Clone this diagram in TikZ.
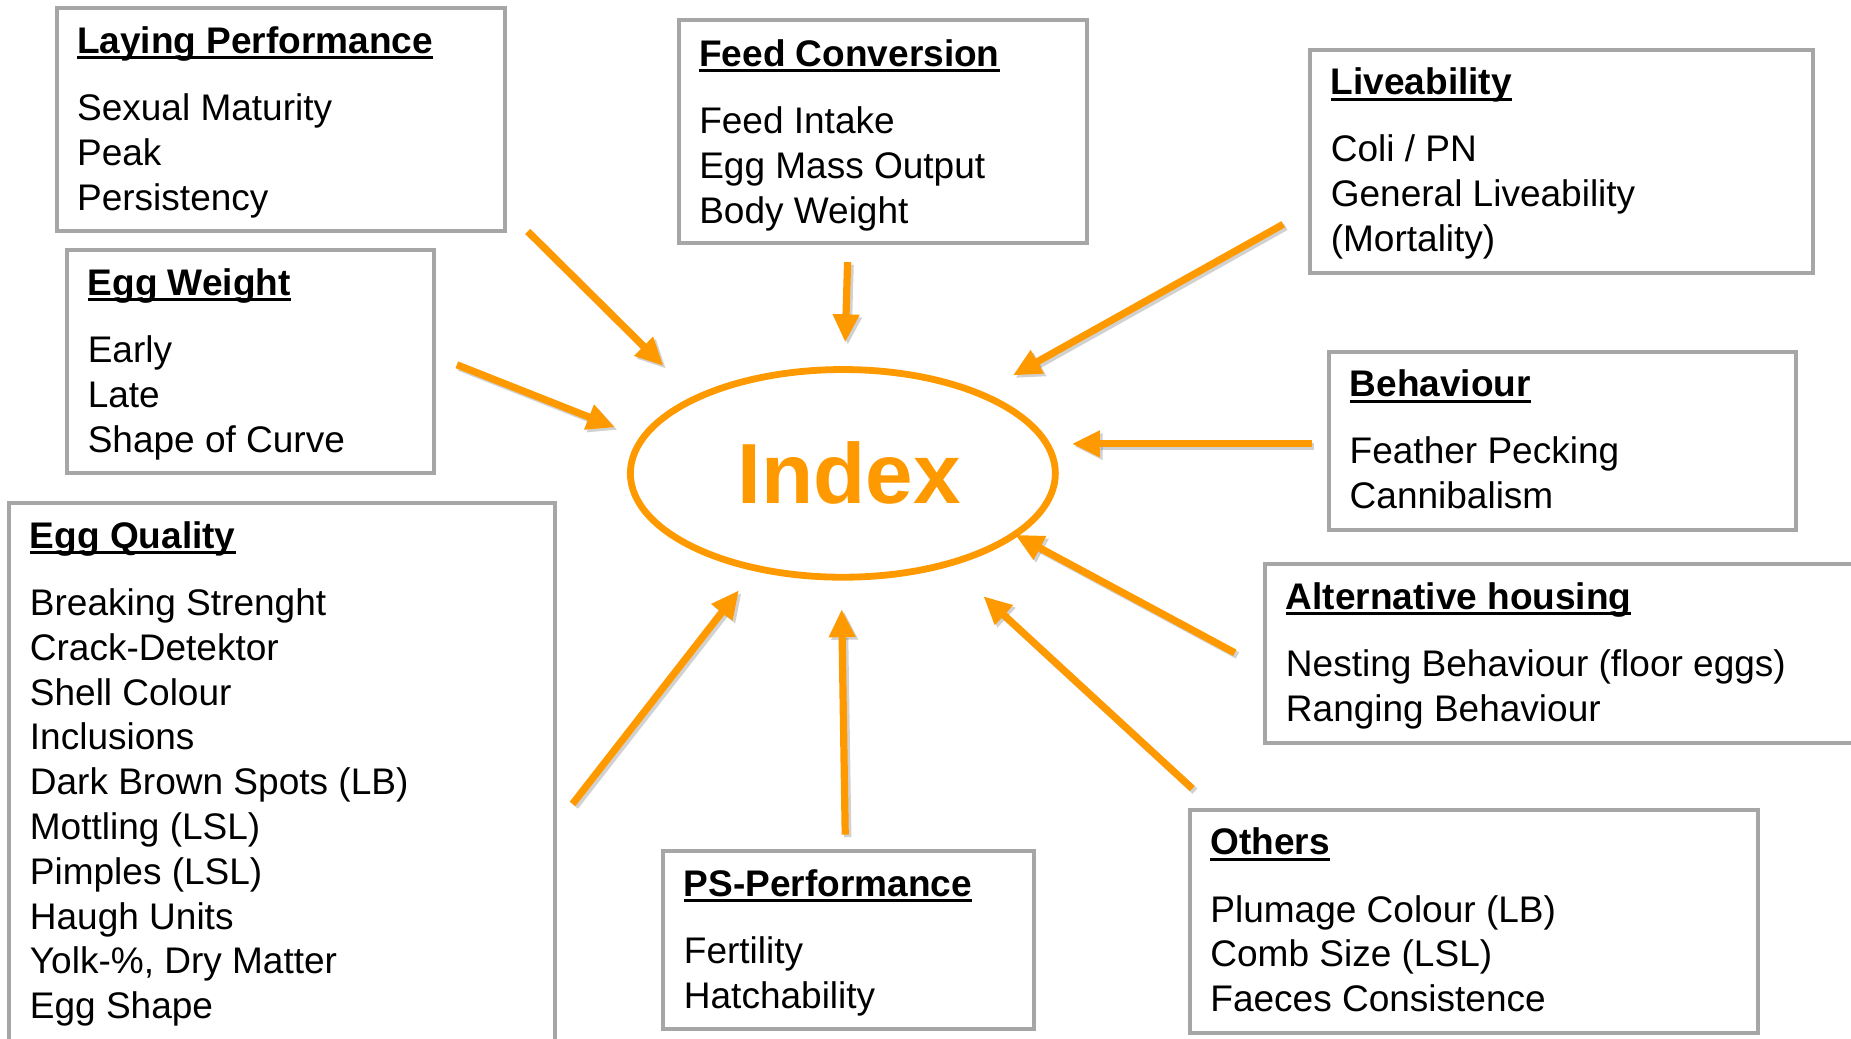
\documentclass[tikz,border=0pt]{standalone}
\usepackage{fontspec}
\setmainfont{Liberation Sans}
\usetikzlibrary{arrows.meta,shapes.geometric,fit}
\definecolor{idxorange}{RGB}{255,153,0}
\definecolor{boxgray}{RGB}{166,166,166}
% bold heading with an underline that runs just under the baseline
\newcommand\hd[1]{\setbox0\hbox{\bfseries #1}\rlap{\rule[-3pt]{\wd0}{1.5pt}}\box0}
\begin{document}
\begin{tikzpicture}[x=0.59pt,y=-0.59pt,
  box/.style={draw=boxgray, line width=2pt, fill=white, inner sep=0pt},
  % text blocks are placed by the baseline of their last line
  lbl/.style={inner sep=0pt, anchor=base west, align=left,
    font=\fontsize{18.5}{22.4}\selectfont},
  arr/.style={draw=idxorange, line width=3.6pt, -{Triangle[length=14pt,width=12.5pt]}},
  arrshadow/.style={draw=black, opacity=0.18, line width=3.6pt, -{Triangle[length=14pt,width=12.5pt]}},
  hub/.style={draw=idxorange, line width=3.4pt, ellipse, inner sep=0pt,
    minimum width=212.4pt, minimum height=103.8pt, text=idxorange,
    font=\bfseries\fontsize{42.7}{50}\selectfont}]
\useasboundingbox (0,0) rectangle (1568,880);
\clip (0,0) rectangle (1568,880);

% frames
\node[box, fit={(48,7) (428,196)}] (lp) {};
\node[box, fit={(575,17) (921,206)}] (fc) {};
\node[box, fit={(1110,42) (1536,231)}] (lv) {};
\node[box, fit={(57,212) (368,401)}] (ew) {};
\node[box, fit={(1126,298) (1521,449)}] (bh) {};
\node[box, fit={(8,426) (470,900)}] (eq) {};
\node[box, fit={(1072,478) (1590,629)}] (ah) {};
\node[box, fit={(562,721) (876,872)}] (ps) {};
\node[box, fit={(1008,686) (1489,875)}] (ot) {};

% frame contents
\node[lbl] (lp-t) at (65,178) {\hd{Laying Performance}\\[11.2pt]Sexual Maturity\\Peak\\Persistency};
\node[lbl] (fc-t) at (592,189) {\hd{Feed Conversion}\\[11.2pt]Feed Intake\\Egg Mass Output\\Body Weight};
\node[lbl] (lv-t) at (1127,213) {\hd{Liveability}\\[11.2pt]Coli / PN\\General Liveability\\(Mortality)};
\node[lbl] (ew-t) at (74,383) {\hd{Egg Weight}\\[11.2pt]Early\\Late\\Shape of Curve};
\node[lbl] (bh-t) at (1143,431) {\hd{Behaviour}\\[11.2pt]Feather Pecking\\Cannibalism};
\node[lbl] (eq-t) at (25,863) {\hd{Egg Quality}\\[11.2pt]Breaking Strenght\\Crack-Detektor\\Shell Colour\\Inclusions\\Dark Brown Spots (LB)\\Mottling (LSL)\\Pimples (LSL)\\Haugh Units\\Yolk-\%, Dry Matter\\Egg Shape};
\node[lbl] (ah-t) at (1089,611) {\hd{Alternative housing}\\[11.2pt]Nesting Behaviour (floor eggs)\\Ranging Behaviour};
\node[lbl] (ps-t) at (579,854) {\hd{PS-Performance}\\[11.2pt]Fertility\\Hatchability};
\node[lbl] (ot-t) at (1025,857) {\hd{Others}\\[11.2pt]Plumage Colour (LB)\\Comb Size (LSL)\\Faeces Consistence};

% central index (word set a little right of the ellipse centre)
\node[hub] (index) at (714,401) {\kern3.2pt Index\kern-3.2pt};

% arrow ends
\coordinate (lp-a) at (447,196);  \coordinate (lp-b) at (562,310);
\coordinate (fc-a) at (718,222);  \coordinate (fc-b) at (716,290);
\coordinate (lv-a) at (1087,190); \coordinate (lv-b) at (858,318);
\coordinate (ew-a) at (387,309);  \coordinate (ew-b) at (521,362);
\coordinate (bh-a) at (1111,376); \coordinate (bh-b) at (908,376);
\coordinate (ah-a) at (1046,553); \coordinate (ah-b) at (860,453);
\coordinate (ot-a) at (1010,668); \coordinate (ot-b) at (833,505);
\coordinate (ps-a) at (716,707);  \coordinate (ps-b) at (713,516);
\coordinate (eq-a) at (485,681);  \coordinate (eq-b) at (626,500);

\foreach \k in {lp,fc,lv,ew,bh,ah,ot,ps,eq}{
  \draw[arrshadow] ([shift={(1.3pt,-1.3pt)}]\k-a) -- ([shift={(1.3pt,-1.3pt)}]\k-b);
  \draw[arr] (\k-a) -- (\k-b);
}
\end{tikzpicture}
\end{document}
